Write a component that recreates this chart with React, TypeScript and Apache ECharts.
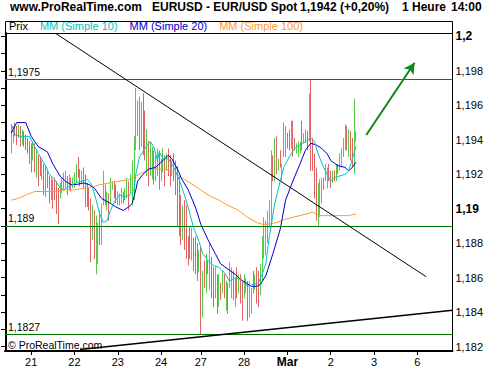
import React, { useEffect, useRef } from 'react';
import * as echarts from 'echarts';

// ---------- time axis (hourly bars) ----------
const dayLabels = ['20', '21', '22', '23', '24', '27', '28', 'Mar', '2', '3', '6'];
const dayFirstHour = [10, 0, 0, 0, 0, 0, 0, 0, 0, 0, 0];
const dayBarCount = [14, 24, 24, 24, 22, 24, 24, 24, 24, 24, 20];

// ---------- price bars (hourly, first one at category index 3) ----------
const firstBarIndex = 3;
const barDirections =
  'ggrrgrgrrr' + 'rrgrgrrgrg' + 'rrgrrrrggg' + 'grgrgggrrg' + 'rrrrrgrggr' +
  'ggrgrggrrg' + 'ggrggrgggg' + 'grgrrgrggr' + 'ggrggrgrrg' + 'rrrrrgrrrr' +
  'grrrgrgrgr' + 'grrgrgrgrg' + 'rggrgrgrrg' + 'grggrgrrgg' + 'gggggrgrgr' +
  'gggrrgrrgg' + 'grggrgrrrr' + 'gggrggrrgr' + 'grggggrgrr' + 'gg';
const barHigh = [
  1.1949, 1.1948, 1.1950, 1.1948, 1.1949, 1.1948, 1.1946, 1.1945, 1.1943, 1.1941,
  1.1939, 1.1938, 1.1939, 1.1938, 1.1934, 1.1931, 1.1930, 1.1928, 1.1926, 1.1925,
  1.1923, 1.1919, 1.1919, 1.1917, 1.1918, 1.1916, 1.1912, 1.1915, 1.1918, 1.1921,
  1.1922, 1.1919, 1.1920, 1.1918, 1.1918, 1.1921, 1.1926, 1.1930, 1.1923, 1.1922,
  1.1924, 1.1920, 1.1915, 1.1912, 1.1906, 1.1902, 1.1899, 1.1896, 1.1892, 1.1899,
  1.1903, 1.1922, 1.1914, 1.1910, 1.1909, 1.1918, 1.1916, 1.1916, 1.1914, 1.1910,
  1.1909, 1.1912, 1.1910, 1.1912, 1.1918, 1.1916, 1.1920, 1.1928, 1.1942, 1.1970,
  1.1963, 1.1965, 1.1962, 1.1967, 1.1957, 1.1946, 1.1939, 1.1939, 1.1936, 1.1934,
  1.1931, 1.1935, 1.1934, 1.1929, 1.1935, 1.1931, 1.1932, 1.1935, 1.1931, 1.1928,
  1.1932, 1.1928, 1.1925, 1.1919, 1.1908, 1.1902, 1.1905, 1.1902, 1.1884, 1.1890,
  1.1889, 1.1883, 1.1884, 1.1880, 1.1876, 1.1878, 1.1864, 1.1870, 1.1874, 1.1870,
  1.1880, 1.1872, 1.1866, 1.1866, 1.1862, 1.1862, 1.1857, 1.1864, 1.1862, 1.1858,
  1.1857, 1.1869, 1.1866, 1.1864, 1.1860, 1.1866, 1.1862, 1.1862, 1.1858, 1.1862,
  1.1860, 1.1858, 1.1858, 1.1854, 1.1864, 1.1862, 1.1866, 1.1864, 1.1868, 1.1884,
  1.1895, 1.1893, 1.1899, 1.1905, 1.1934, 1.1931, 1.1941, 1.1942, 1.1929, 1.1934,
  1.1926, 1.1950, 1.1948, 1.1944, 1.1946, 1.1951, 1.1951, 1.1941, 1.1938, 1.1939,
  1.1939, 1.1951, 1.1944, 1.1946, 1.1945, 1.1967, 1.1975, 1.1941, 1.1932, 1.1924,
  1.1915, 1.1917, 1.1918, 1.1918, 1.1926, 1.1924, 1.1926, 1.1922, 1.1922, 1.1922,
  1.1926, 1.1926, 1.1932, 1.1935, 1.1941, 1.1949, 1.1948, 1.1946, 1.1945, 1.1941,
  1.1964, 1.1945,
];
const barLow = [
  1.1932, 1.1938, 1.1942, 1.1937, 1.1941, 1.1936, 1.1937, 1.1936, 1.1934, 1.1932,
  1.1926, 1.1921, 1.1928, 1.1921, 1.1918, 1.1913, 1.1919, 1.1917, 1.1908, 1.1907,
  1.1912, 1.1903, 1.1905, 1.1900, 1.1905, 1.1897, 1.1891, 1.1906, 1.1909, 1.1911,
  1.1912, 1.1908, 1.1911, 1.1910, 1.1912, 1.1912, 1.1915, 1.1918, 1.1913, 1.1914,
  1.1912, 1.1901, 1.1901, 1.1899, 1.1869, 1.1882, 1.1871, 1.1862, 1.1868, 1.1879,
  1.1879, 1.1902, 1.1902, 1.1899, 1.1893, 1.1903, 1.1911, 1.1906, 1.1903, 1.1902,
  1.1902, 1.1903, 1.1903, 1.1905, 1.1906, 1.1899, 1.1909, 1.1902, 1.1905, 1.1934,
  1.1942, 1.1934, 1.1936, 1.1931, 1.1928, 1.1919, 1.1913, 1.1919, 1.1917, 1.1914,
  1.1916, 1.1919, 1.1911, 1.1916, 1.1921, 1.1913, 1.1922, 1.1919, 1.1913, 1.1919,
  1.1916, 1.1908, 1.1890, 1.1884, 1.1879, 1.1882, 1.1876, 1.1871, 1.1867, 1.1871,
  1.1870, 1.1864, 1.1862, 1.1858, 1.1863, 1.1827, 1.1837, 1.1854, 1.1851, 1.1862,
  1.1853, 1.1848, 1.1843, 1.1848, 1.1839, 1.1843, 1.1847, 1.1851, 1.1848, 1.1841,
  1.1839, 1.1854, 1.1848, 1.1847, 1.1843, 1.1848, 1.1851, 1.1845, 1.1835, 1.1848,
  1.1851, 1.1835, 1.1837, 1.1839, 1.1851, 1.1853, 1.1845, 1.1843, 1.1850, 1.1858,
  1.1871, 1.1873, 1.1880, 1.1889, 1.1889, 1.1916, 1.1916, 1.1920, 1.1922, 1.1924,
  1.1916, 1.1930, 1.1930, 1.1935, 1.1934, 1.1935, 1.1930, 1.1934, 1.1932, 1.1930,
  1.1932, 1.1934, 1.1938, 1.1938, 1.1934, 1.1939, 1.1922, 1.1922, 1.1906, 1.1893,
  1.1890, 1.1895, 1.1903, 1.1911, 1.1916, 1.1912, 1.1916, 1.1912, 1.1915, 1.1916,
  1.1916, 1.1920, 1.1922, 1.1924, 1.1930, 1.1934, 1.1934, 1.1930, 1.1928, 1.1924,
  1.1920, 1.1939,
];

// ---------- moving averages, read as [bar index, value] ----------
const ma10 = [
  [3, 1.1949], [5, 1.1943], [8, 1.1942], [11, 1.1942], [13, 1.1942], [16, 1.1936], [18, 1.1932],
  [22, 1.1925], [24, 1.192], [27, 1.1917], [30, 1.1912], [32, 1.1911], [35, 1.1913], [39, 1.1915],
  [42, 1.1916], [45, 1.1917], [47, 1.1915], [49, 1.1909], [52, 1.1897], [54, 1.1892], [56, 1.1893],
  [58, 1.1899], [60, 1.1904], [63, 1.1908], [66, 1.1907], [69, 1.1908], [71, 1.1911], [72, 1.192],
  [74, 1.193], [77, 1.1935], [80, 1.1939], [82, 1.1936], [84, 1.1928], [85, 1.1933], [87, 1.1929],
  [90, 1.1929], [93, 1.1924], [96, 1.1917], [98, 1.1911], [101, 1.1901], [104, 1.1889], [107, 1.1881],
  [109, 1.1874], [112, 1.187], [115, 1.1867], [118, 1.1866], [121, 1.1863], [124, 1.1858], [127, 1.186],
  [130, 1.1859], [132, 1.1857], [134, 1.1855], [137, 1.1856], [140, 1.1857], [142, 1.1862], [144, 1.1868],
  [146, 1.1884], [149, 1.1903], [152, 1.1916], [154, 1.1924], [157, 1.193], [160, 1.1935], [163, 1.1937],
  [166, 1.1939], [169, 1.1941], [171, 1.1939], [173, 1.1932], [176, 1.1924], [178, 1.192], [180, 1.1916],
  [182, 1.1918], [185, 1.1919], [188, 1.192], [190, 1.1922], [192, 1.1929], [194, 1.1936],
];
const ma20 = [
  [3, 1.1944], [6, 1.195], [11, 1.195], [14, 1.1942], [18, 1.1936], [23, 1.1933], [26, 1.1926],
  [30, 1.1919], [33, 1.1916], [36, 1.1914], [39, 1.1914], [43, 1.1915], [46, 1.1914], [49, 1.1912],
  [51, 1.1909], [53, 1.1906], [58, 1.1903], [61, 1.1901], [65, 1.1899], [68, 1.1901], [70, 1.1903],
  [72, 1.1911], [73, 1.1916], [76, 1.192], [79, 1.1923], [83, 1.1924], [87, 1.1928], [90, 1.1931],
  [92, 1.1929], [94, 1.1925], [96, 1.1921], [97, 1.1918], [101, 1.1911], [105, 1.1901], [108, 1.1891],
  [112, 1.1882], [116, 1.1874], [119, 1.1868], [123, 1.1865], [127, 1.1862], [130, 1.1859], [133, 1.1857],
  [136, 1.1855], [139, 1.1855], [141, 1.1856], [144, 1.1861], [148, 1.1874], [152, 1.1888], [155, 1.1905],
  [159, 1.1916], [163, 1.1926], [166, 1.1934], [169, 1.1938], [172, 1.1937], [175, 1.1935], [178, 1.1932],
  [180, 1.1928], [184, 1.1925], [188, 1.1924], [190, 1.1922], [192, 1.1924], [194, 1.1927],
];
const ma100 = [
  [3, 1.1905], [7, 1.1906], [11, 1.1908], [16, 1.191], [22, 1.191], [27, 1.191], [33, 1.1911],
  [38, 1.1911], [44, 1.1912], [49, 1.1913], [52, 1.1914], [58, 1.1915], [63, 1.1916], [69, 1.1917],
  [72, 1.1919], [76, 1.1921], [80, 1.1923], [84, 1.1923], [89, 1.1923], [93, 1.1921], [99, 1.1917],
  [105, 1.1913], [112, 1.1908], [118, 1.1905], [123, 1.1902], [129, 1.1899], [134, 1.1895], [139, 1.1892],
  [142, 1.1891], [145, 1.1891], [150, 1.1892], [155, 1.1894], [163, 1.1896], [170, 1.1898], [174, 1.1896],
  [180, 1.1896], [185, 1.1896], [190, 1.1896], [194, 1.1897],
];

// ---------- annotations ----------
const resistanceLevel = 1.1975;
const supportLevels = [1.189, 1.1827];
const resistanceLabel = '1,1975';
const supportLabels = ['1,189', '1,1827'];
const resistanceLine = [[27.5, 1.20018], [232.9, 1.186055]];
const supportLine = [[41.1, 1.181824], [247.5, 1.184105]];
const arrowLine = [[199.7, 1.194279], [226.5, 1.198475]];

const instrument = 'EURUSD - EUR/USD Spot';
const lastPrice = '1,1942';
const change = '(+0,20%)';
const period = '1 Heure';
const lastTime = '14:00';

const seriesNames = ['Prix', 'MM (Simple 10)', 'MM (Simple 20)', 'MM (Simple 100)'];

// scale of the price axis
const tickMin = 1.182;
const tickMax = 1.2;
const tickStep = 0.001;
const plotMin = 1.181743;
const plotMax = 1.200199;

// ---------- styles ----------
const FONT = '"Liberation Sans", Arial, Helvetica, sans-serif';
const UP = '#55cc44';
const DOWN = '#e06262';
const C10 = '#00c4c4';
const C20 = '#0000cc';
const C100 = '#ff9933';
const RES_COLOR = '#ff0000';
const SUP_COLOR = '#007800';
const ARROW_COLOR = '#118811';

export default function App() {
  const ref = useRef<HTMLDivElement>(null);

  useEffect(() => {
    if (!ref.current) return;
    const chart = echarts.init(ref.current, null, { renderer: 'svg' });

    const categories: string[] = [];
    dayLabels.forEach((lab, d) => {
      for (let k = 0; k < dayBarCount[d]; k++) {
        categories.push(lab + ' ' + (dayFirstHour[d] + k));
      }
    });
    const nCat = categories.length;

    const bars = barHigh.map((h, k) => [
      firstBarIndex + k,
      barLow[k],
      h,
      barDirections[k] === 'g' ? 1 : 0,
    ]);

    const isDayStart = (_i: number, v: string) => / 0$/.test(v);

    const levelLabel = (text: string) => ({
      show: true,
      position: 'insideStartTop',
      formatter: text,
      color: '#000',
      fontSize: 10.5,
      fontFamily: FONT,
      distance: [3, 2],
    });

    const option: any = {
      animation: false,
      backgroundColor: '#ffffff',
      textStyle: { fontFamily: FONT, color: '#000' },
      title: {
        left: 10,
        top: 1,
        padding: 0,
        text:
          '{a|www.ProRealTime.com}{b|' + instrument + '}{c|' + lastPrice + ' ' + change +
          '}{d|' + period + '}{e|' + lastTime + '}',
        textStyle: {
          fontFamily: FONT,
          fontSize: 12,
          fontWeight: 'bold',
          color: '#000',
          rich: {
            a: { width: 142, fontSize: 12, fontWeight: 'bold', fontFamily: FONT, color: '#000' },
            b: { width: 148, fontSize: 12, fontWeight: 'bold', fontFamily: FONT, color: '#000' },
            c: { width: 102, fontSize: 12, fontWeight: 'bold', fontFamily: FONT, color: '#000' },
            d: { width: 49, fontSize: 12, fontWeight: 'bold', fontFamily: FONT, color: '#000' },
            e: { fontSize: 12, fontWeight: 'bold', fontFamily: FONT, color: '#000' },
          },
        },
      },
      legend: {
        left: 4,
        top: 20,
        padding: 0,
        icon: 'none',
        itemWidth: 0,
        itemHeight: 0,
        itemGap: 7,
        selectedMode: false,
        textStyle: { fontFamily: FONT, fontSize: 11 },
        data: [
          { name: seriesNames[0], textStyle: { color: '#000' } },
          { name: seriesNames[1], textStyle: { color: C10 } },
          { name: seriesNames[2], textStyle: { color: C20 } },
          { name: seriesNames[3], textStyle: { color: C100 } },
        ],
      },
      grid: [
        { left: 5, right: 47.5, top: 33, bottom: 19, show: false },
        { left: 5, right: 47.5, top: 36.4, bottom: 23.4, show: false },
      ],
      xAxis: [
        {
          type: 'category',
          gridIndex: 0,
          data: categories,
          boundaryGap: true,
          axisLine: { show: true, lineStyle: { color: '#000', width: 2 } },
          axisTick: {
            show: true,
            alignWithLabel: true,
            interval: isDayStart,
            length: 4,
            lineStyle: { color: '#000', width: 1 },
          },
          axisLabel: {
            interval: isDayStart,
            margin: 5,
            fontSize: 11,
            color: '#000',
            fontFamily: FONT,
            formatter: (v: string) => {
              const lab = v.split(' ')[0];
              return lab === 'Mar' ? '{b|Mar}' : lab;
            },
            rich: { b: { fontWeight: 'bold', fontSize: 12, fontFamily: FONT, color: '#000' } },
          },
          splitLine: { show: false },
        },
        { type: 'value', gridIndex: 0, min: -0.5, max: nCat - 0.5, show: false },
        { type: 'value', gridIndex: 1, min: 0, max: 1, show: false },
      ],
      yAxis: [
        {
          type: 'value',
          gridIndex: 0,
          position: 'right',
          min: plotMin,
          max: plotMax,
          axisLine: { show: true, lineStyle: { color: '#000', width: 2 } },
          axisTick: { show: false },
          axisLabel: { show: false },
          splitLine: { show: false },
        },
        {
          type: 'value',
          gridIndex: 1,
          position: 'right',
          min: tickMin,
          max: tickMax,
          interval: tickStep,
          axisLine: { show: false },
          axisTick: { show: true, inside: true, length: 4, lineStyle: { color: '#000', width: 1 } },
          axisLabel: {
            margin: 3,
            fontSize: 11,
            color: '#000',
            fontFamily: FONT,
            showMinLabel: true,
            showMaxLabel: true,
            formatter: (v: number) => {
              const k = Math.round(v * 1000);
              if (k % 2 !== 0) return '';
              const s = String(k / 1000).replace('.', ',');
              return k % 10 === 0 ? '{b|' + s + '}' : s;
            },
            rich: { b: { fontWeight: 'bold', fontSize: 12, fontFamily: FONT, color: '#000' } },
          },
          splitLine: { show: false },
        },
      ],
      series: [
        {
          name: seriesNames[0],
          type: 'custom',
          xAxisIndex: 1,
          yAxisIndex: 0,
          data: bars,
          encode: { x: 0, y: [1, 2] },
          z: 2,
          renderItem: (_p: any, api: any) => {
            const idx = api.value(0);
            const pHi = api.coord([idx, api.value(2)]);
            const pLo = api.coord([idx, api.value(1)]);
            return {
              type: 'rect',
              shape: {
                x: Math.floor(pHi[0]),
                y: pHi[1],
                width: 1,
                height: Math.max(1, pLo[1] - pHi[1]),
              },
              style: { fill: api.value(3) ? UP : DOWN },
            };
          },
        },
        {
          name: seriesNames[3],
          type: 'line',
          xAxisIndex: 1,
          yAxisIndex: 0,
          data: ma100,
          showSymbol: false,
          symbol: 'none',
          color: C100,
          lineStyle: { color: C100, width: 1 },
          z: 3,
        },
        {
          name: seriesNames[2],
          type: 'line',
          xAxisIndex: 1,
          yAxisIndex: 0,
          data: ma20,
          showSymbol: false,
          symbol: 'none',
          color: C20,
          lineStyle: { color: C20, width: 1 },
          z: 4,
        },
        {
          name: seriesNames[1],
          type: 'line',
          xAxisIndex: 1,
          yAxisIndex: 0,
          data: ma10,
          showSymbol: false,
          symbol: 'none',
          color: C10,
          lineStyle: { color: C10, width: 1 },
          z: 5,
        },
        {
          name: 'resistance level',
          type: 'line',
          xAxisIndex: 1,
          yAxisIndex: 0,
          data: [],
          color: RES_COLOR,
          z: 6,
          markLine: {
            silent: true,
            animation: false,
            symbol: ['none', 'none'],
            lineStyle: { color: RES_COLOR, width: 1, type: 'solid', opacity: 1 },
            label: levelLabel(resistanceLabel),
            data: [[{ coord: [-0.5, resistanceLevel] }, { coord: [nCat - 0.5, resistanceLevel] }]],
          },
        },
        {
          name: 'support levels',
          type: 'line',
          xAxisIndex: 1,
          yAxisIndex: 0,
          data: [],
          color: SUP_COLOR,
          z: 6,
          markLine: {
            silent: true,
            animation: false,
            symbol: ['none', 'none'],
            lineStyle: { color: SUP_COLOR, width: 1, type: 'solid', opacity: 1 },
            data: supportLevels.map((lv, k) => [
              { coord: [-0.5, lv], label: levelLabel(supportLabels[k]) },
              { coord: [nCat - 0.5, lv] },
            ]),
          },
        },
        {
          name: 'trend lines',
          type: 'line',
          xAxisIndex: 1,
          yAxisIndex: 0,
          data: [],
          color: '#000',
          z: 7,
          markLine: {
            silent: true,
            animation: false,
            symbol: ['none', 'none'],
            label: { show: false },
            data: [
              [
                { coord: resistanceLine[0], lineStyle: { color: '#000', width: 1, type: 'solid' } },
                { coord: resistanceLine[1] },
              ],
              [
                { coord: supportLine[0], lineStyle: { color: '#000', width: 1.5, type: 'solid' } },
                { coord: supportLine[1] },
              ],
            ],
          },
        },
        {
          name: 'target arrow',
          type: 'line',
          xAxisIndex: 1,
          yAxisIndex: 0,
          data: [],
          color: ARROW_COLOR,
          z: 8,
          markLine: {
            silent: true,
            animation: false,
            symbol: ['none', 'arrow'],
            symbolSize: [9, 11],
            lineStyle: { color: ARROW_COLOR, width: 2, type: 'solid' },
            label: { show: false },
            data: [[{ coord: arrowLine[0] }, { coord: arrowLine[1] }]],
          },
        },
      ],
      graphic: [
        {
          type: 'rect',
          silent: true,
          z: -1,
          shape: { x: 5.5, y: 21.5, width: 447, height: 12 },
          style: { fill: 'none', stroke: '#000', lineWidth: 1 },
        },
        {
          type: 'rect',
          silent: true,
          z: -1,
          shape: { x: 5.5, y: 33.5, width: 447, height: 317.5 },
          style: { fill: 'none', stroke: '#000', lineWidth: 1 },
        },
        {
          type: 'text',
          silent: true,
          left: 8,
          top: 339,
          style: { text: '\u00a9 ProRealTime.com', fontSize: 10.5, fontFamily: FONT, fill: '#000' },
        },
      ],
    };

    chart.setOption(option);
    return () => chart.dispose();
  }, []);

  return (
    <div
      ref={ref}
      style={{ position: 'fixed', left: 0, top: 0, width: 500, height: 370, background: '#fff' }}
    />
  );
}
